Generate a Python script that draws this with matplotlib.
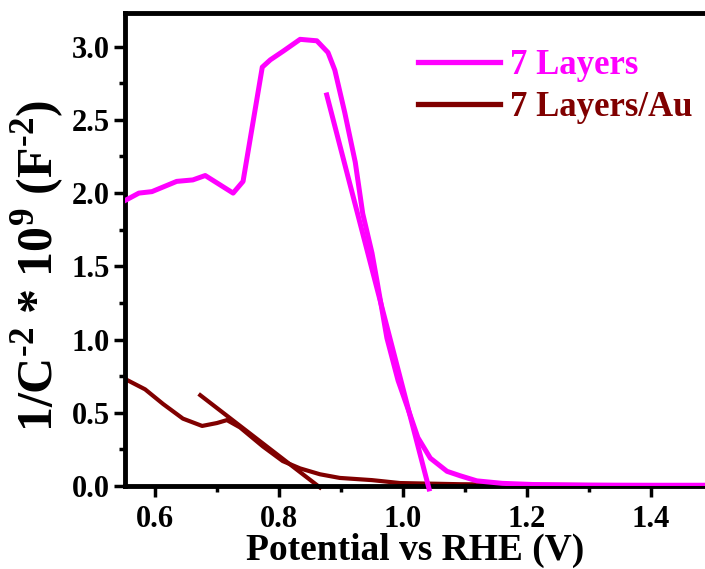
import matplotlib
matplotlib.use('Agg')
import matplotlib.pyplot as plt
from matplotlib.ticker import MultipleLocator, FormatStrFormatter

plt.rcParams['font.family'] = ['Liberation Serif', 'DejaVu Serif']
plt.rcParams['font.weight'] = 'bold'
plt.rcParams['mathtext.fontset'] = 'custom'
plt.rcParams['mathtext.bf'] = 'Liberation Serif:bold'
plt.rcParams['mathtext.rm'] = 'Liberation Serif:bold'

# Mott-Schottky data, 7 layers sample
v_7l = [0.552, 0.574, 0.595, 0.635, 0.661, 0.681, 0.726, 0.742, 0.773, 0.786,
        0.807, 0.834, 0.861, 0.879, 0.890, 0.906, 0.923, 0.935, 0.950, 0.958,
        0.974, 0.992, 1.011, 1.024, 1.044, 1.071, 1.092, 1.119, 1.160, 1.210,
        1.300, 1.400, 1.490]
c_7l = [1.95, 2.00, 2.01, 2.08, 2.09, 2.12, 2.00, 2.08, 2.86, 2.91,
        2.97, 3.05, 3.04, 2.96, 2.84, 2.55, 2.21, 1.86, 1.59, 1.40,
        1.01, 0.72, 0.49, 0.33, 0.19, 0.10, 0.07, 0.035, 0.018, 0.010,
        0.006, 0.005, 0.005]

# 7 layers / Au sample
v_au = [0.552, 0.584, 0.613, 0.645, 0.676, 0.700, 0.716, 0.737, 0.774, 0.806,
        0.834, 0.866, 0.898, 0.950, 0.995, 1.092, 1.200, 1.350, 1.490]
c_au = [0.73, 0.66, 0.56, 0.46, 0.41, 0.43, 0.45, 0.40, 0.27, 0.17,
        0.12, 0.08, 0.055, 0.04, 0.02, 0.012, 0.008, 0.006, 0.005]

# linear fits used for the flat-band potential
fit_7l_v = [0.877, 1.042]
fit_7l_c = [2.67, -0.02]
fit_au_v = [0.673, 0.866]
fit_au_c = [0.62, -0.01]

magenta = '#FF00FF'
darkred = '#800000'

fig = plt.figure(figsize=(7.05, 5.69), dpi=100)
ax = fig.add_axes([0.1773, 0.1459, 0.8227, 0.8313])

ax.plot(v_au, c_au, color=darkred, lw=3.0, zorder=2, label='7 Layers/Au')
ax.plot(fit_au_v, fit_au_c, color=darkred, lw=3.0, zorder=2, clip_on=False)
ax.plot(v_7l, c_7l, color=magenta, lw=3.6, zorder=3, label='7 Layers')
ax.plot(fit_7l_v, fit_7l_c, color=magenta, lw=3.6, zorder=3, clip_on=False)

ax.set_xlim(0.5516, 1.487)
ax.set_ylim(0, 3.23)

ax.xaxis.set_major_locator(MultipleLocator(0.2))
ax.xaxis.set_minor_locator(MultipleLocator(0.1))
ax.yaxis.set_major_locator(MultipleLocator(0.5))
ax.yaxis.set_minor_locator(MultipleLocator(0.25))
ax.tick_params(which='major', direction='out', length=8, width=2.5, labelsize=22)
ax.tick_params(which='minor', direction='out', length=4.5, width=2.5)
ax.tick_params(axis='x', which='major', pad=6)
ax.tick_params(axis='y', which='major', pad=3)
ax.xaxis.set_major_formatter(FormatStrFormatter('%.1f'))
ax.yaxis.set_major_formatter(FormatStrFormatter('%.1f'))

for s in ['left', 'bottom', 'top']:
    ax.spines[s].set_linewidth(3.5)
ax.spines['right'].set_visible(False)

ax.set_xlabel('Potential vs RHE (V)', fontsize=27, fontweight='bold')
ax.xaxis.set_label_coords(0.5, -0.099)
ax.set_ylabel('1/C$^{\\mathbf{\u20102}}$ * 10$^{\\mathbf{9}}$ (F$^{\\mathbf{\u20102}}$)',
              fontsize=36, fontweight='bold')
ax.yaxis.set_label_coords(-0.10, 0.465)

handles, labels = ax.get_legend_handles_labels()
leg = ax.legend(handles[::-1], labels[::-1], loc='upper left',
                bbox_to_anchor=(0.505, 0.924), frameon=False, fontsize=25,
                borderpad=0, borderaxespad=0,
                handlelength=2.36, handletextpad=0.3, labelspacing=0.27)
for txt, col in zip(leg.get_texts(), [magenta, darkred]):
    txt.set_color(col)
    txt.set_fontweight('bold')
for line in leg.get_lines():
    line.set_linewidth(3.8)

fig.savefig('out.png', dpi=100)
